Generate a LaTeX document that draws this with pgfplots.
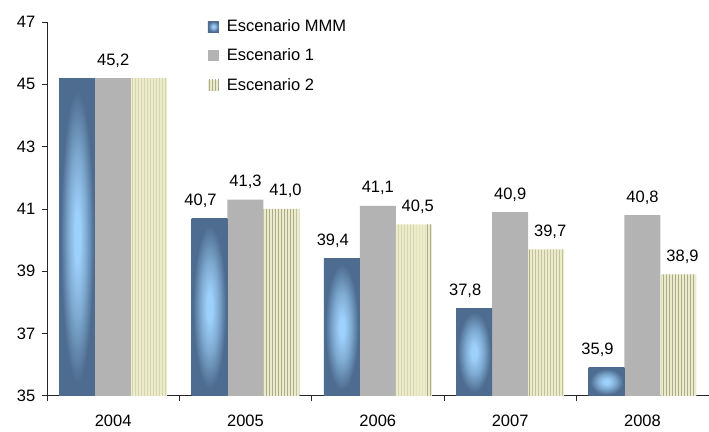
\documentclass[border=0pt]{standalone}
\usepackage{fontspec}
\setmainfont{Liberation Sans}
\usepackage{pgfplots}
\pgfplotsset{compat=1.18}
\usetikzlibrary{patterns}
\definecolor{mmmdark}{HTML}{4D6C8F}
\definecolor{mmmlight}{HTML}{9DD0FA}
\colorlet{mmmmid}{mmmlight!60!mmmdark}
\definecolor{sone}{HTML}{B3B3B3}
\definecolor{stwo}{HTML}{ECECC8}
\definecolor{stwoline}{HTML}{ABAB95}
\pgfdeclareradialshading{mmmshade}{\pgfpoint{0bp}{0bp}}{color(0bp)=(mmmlight); color(4bp)=(mmmlight); color(13bp)=(mmmmid); color(23bp)=(mmmdark); color(50bp)=(mmmdark)}
\newcommand{\chartfont}{\fontsize{16.5bp}{19bp}\selectfont}
\begin{document}
\chartfont
\begin{tikzpicture}
\begin{axis}[
  scale only axis, width=662bp, height=374bp,
  ybar=0pt, bar width=36bp,
  y filter/.expression={y-35},
  xmin=-0.5, xmax=4.5, ymin=0, ymax=12,
  ytick={0,2,...,12}, yticklabels={35,37,39,41,43,45,47},
  xtick={0,...,4}, xticklabels={2004,2005,2006,2007,2008},
  minor xtick={-0.5,0.5,1.5,2.5,3.5},
  axis lines*=left,
  axis line style={black!85, line width=0.7bp},
  tick align=outside,
  major tick length=5bp, minor tick length=5bp,
  major x tick style={draw=none},
  minor x tick style={draw=black!85, line width=0.7bp},
  ytick style={draw=black!85, line width=0.7bp},
  /pgf/number format/assume math mode=true,
  ticklabel style={font=\chartfont},
  yticklabel style={xshift=-1bp},
  xticklabel style={yshift=-8bp},
  nodes near coords, point meta=explicit symbolic,
  nodes near coords style={font=\chartfont, anchor=base, yshift=13bp},
  legend style={at={(0.243,1.013)}, anchor=north west, draw=none, fill=none,
    font=\chartfont, row sep=11bp, inner sep=0pt},
  legend cell align=left,
  legend image code/.code={\path[#1, draw=none] (0bp,-5.5bp) rectangle (11bp,5.5bp); \path (0bp,0bp) -- (17bp,0bp);},
  mmm/.style={draw=none, shading=mmmshade, bar shift=-36bp, nodes near coords style={xshift=-9bp}},
]
\addplot[mmm] coordinates {(0,45.2) [{}]};
\addplot[draw=none, fill=sone, bar shift=0bp]
  coordinates {(0,45.2) [{45,2}] (1,41.3) [{41,3}] (2,41.1) [{41,1}] (3,40.9) [{40,9}] (4,40.8) [{40,8}]};
\addplot[draw=none, fill=stwo, postaction={pattern=vertical lines, pattern color=stwoline}, bar shift=36bp, nodes near coords style={xshift=4bp}]
  coordinates {(0,45.2) [{}] (1,41.0) [{41,0}] (2,40.5) [{40,5}] (3,39.7) [{39,7}] (4,38.9) [{38,9}]};
\addplot[mmm, forget plot] coordinates {(1,40.7) [{40,7}]};
\addplot[mmm, forget plot] coordinates {(2,39.4) [{39,4}]};
\addplot[mmm, forget plot] coordinates {(3,37.8) [{37,8}]};
\addplot[mmm, forget plot] coordinates {(4,35.9) [{35,9}]};
\legend{Escenario MMM, Escenario 1, Escenario 2}
\end{axis}
\path (current axis.south west) ++(-47bp,-32bp);
\path (current axis.north east) ++(0bp,22bp);
\end{tikzpicture}
\end{document}
